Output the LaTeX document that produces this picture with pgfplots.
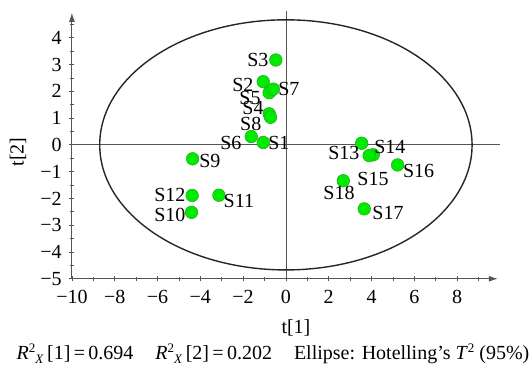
\documentclass[border=0pt]{standalone}
\usepackage{pgfplots}
\pgfplotsset{compat=1.18}
\usepackage{pgfplotstable}
\usepackage{fontspec}
\setmainfont{Liberation Serif}
\usetikzlibrary{arrows.meta}
\definecolor{ptfill}{RGB}{0,235,0}
\definecolor{ptedge}{RGB}{40,170,40}
\definecolor{axgray}{RGB}{85,85,85}
\pgfplotstableread{
x y
-1.06 0.09
-1.06 2.36
-0.47 3.17
-0.78 1.16
-0.78 1.95
-1.62 0.31
-0.59 2.08
-0.72 1.03
-4.36 -0.52
-4.41 -2.52
-3.13 -1.88
-4.38 -1.89
3.54 0.06
4.08 -0.37
3.89 -0.40
5.22 -0.75
3.66 -2.39
2.68 -1.34
}\scores
\pgfplotstableread{
x y label
-0.33 0.07 S1
-2.01 2.24 S2
-1.31 3.17 S3
-1.54 1.38 S4
-1.68 1.75 S5
-2.57 0.07 S6
0.14 2.09 S7
-1.64 0.78 S8
-3.55 -0.60 S9
-5.42 -2.61 S10
-2.20 -2.09 S11
-5.42 -1.87 S12
2.71 -0.30 S13
4.86 -0.07 S14
4.07 -1.27 S15
6.20 -0.97 S16
4.77 -2.54 S17
2.48 -1.79 S18
}\labels
\newcommand{\sfs}{\fontsize{13}{13}\selectfont}
\begin{document}
\fontsize{20}{23}\selectfont
\begin{tikzpicture}
\begin{axis}[
  scale only axis, width=426pt, height=266pt,
  xmin=-10, xmax=9.9, ymin=-5, ymax=4.93,
  axis lines=left, clip=false,
  axis line style={axgray, line width=0.9pt, -{Latex[length=9pt,width=6pt]}},
  xtick={-10,-8,...,8},
  xticklabels={−10,−8,−6,−4,−2,0,2,4,6,8},
  ytick={-5,-4,...,4},
  yticklabels={−5,−4,−3,−2,−1,0,1,2,3,4},
  minor xtick={-9,-7,...,9},
  minor ytick={-4.5,-3.5,...,4.5},
  tick style={axgray, line width=0.8pt},
  major tick length=5pt, minor tick length=4pt,
  tick align=center,
  tick label style={font=\fontsize{20}{23}\selectfont},
  xticklabel style={yshift=-2pt},
  yticklabel style={xshift=-1pt},
]
\draw[axgray, line width=0.8pt] (axis cs:0,-5) -- (axis cs:0,5.0);
\draw[axgray, line width=0.8pt] (axis cs:-10,0) -- (axis cs:10.0,0);
\draw[black!85, line width=1.4pt] (axis cs:0,0) ellipse [x radius=8.7, y radius=4.67];
\addplot[only marks, mark=*, mark size=6.3pt, mark options={fill=ptfill, draw=ptedge, line width=0.6pt}] table[x=x,y=y] {\scores};
\addplot[only marks, mark=none, nodes near coords, point meta=explicit symbolic,
  nodes near coords align={anchor=center},
  every node near coord/.style={anchor=center, inner sep=0pt, font=\fontsize{20}{23}\selectfont}]
  table[x=x,y=y,meta=label] {\labels};
\node[anchor=center] at (axis cs:0.47,-6.83) {t[1]};
\node[anchor=center, rotate=90] at (axis cs:-12.52,-0.26) {t[2]};
\node[anchor=center] at (axis cs:-0.6,-7.82) {\textit{R}\raisebox{0.75ex}{\sfs 2}\raisebox{-0.35ex}{\sfs\textit{X}}\,[1]\,=\,0.694\hspace{1.1em}\textit{R}\raisebox{0.75ex}{\sfs 2}\raisebox{-0.35ex}{\sfs\textit{X}}\,[2]\,=\,0.202\hspace{1.1em}Ellipse: Hotelling’s \textit{T}\raisebox{0.75ex}{\sfs 2} (95\%)};
\coordinate (tl) at (axis cs:-13.36,5.41);
\coordinate (br) at (axis cs:11.50,-8.32);
\end{axis}
\pgfresetboundingbox
\path[use as bounding box] (tl) rectangle (br);
\end{tikzpicture}
\end{document}
